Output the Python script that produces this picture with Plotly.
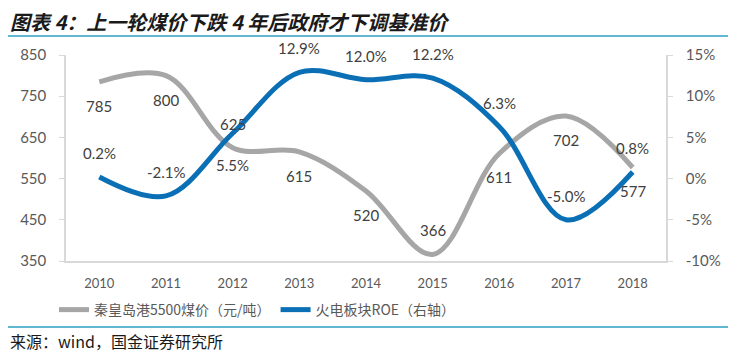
import plotly.graph_objects as go

years = ["2010", "2011", "2012", "2013", "2014", "2015", "2016", "2017", "2018"]
coal_price = [785, 800, 625, 615, 520, 366, 611, 702, 577]
roe = [0.2, -2.1, 5.5, 12.9, 12.0, 12.2, 6.3, -5.0, 0.8]
coal_label_pos = ["below", "below", "above", "below", "below", "above", "below", "below", "below"]
roe_label_pos = ["above", "above", "below", "above", "above", "above", "above", "above", "above"]

coal_name = "秦皇岛港5500煤价（元/吨）"
roe_name = "火电板块ROE（右轴）"
title_text = "图表 4：上一轮煤价下跌 4 年后政府才下调基准价"
source_text = "来源：wind，国金证券研究所"

GRAY = "#a6a6a6"
BLUE = "#0a6fb5"
TXT = "#404040"
TICK = "#595959"
AX = "#d9d9d9"
FONT = "Lato, 'Noto Sans CJK SC', sans-serif"

fig = go.Figure()
fig.add_trace(go.Scatter(x=years, y=coal_price, name=coal_name, mode="lines",
                         line=dict(color=GRAY, width=5, shape="spline", smoothing=1.0),
                         yaxis="y"))
fig.add_trace(go.Scatter(x=years, y=roe, name=roe_name, mode="lines",
                         line=dict(color=BLUE, width=5, shape="spline", smoothing=1.0),
                         yaxis="y2"))

annotations = []
for i, (v, p) in enumerate(zip(coal_price, coal_label_pos)):
    annotations.append(dict(x=i, y=v, xref="x", yref="y", text=str(v), showarrow=False,
                            yshift=24 if p == "above" else -24,
                            font=dict(size=15, color=TXT, family=FONT)))
for i, (v, p) in enumerate(zip(roe, roe_label_pos)):
    annotations.append(dict(x=i, y=v, xref="x", yref="y2", text=f"{v:.1f}%", showarrow=False,
                            yshift=24 if p == "above" else -32,
                            font=dict(size=15, color=TXT, family=FONT)))

# title & source
annotations.append(dict(x=-0.097, y=1.165, xref="paper", yref="paper", xanchor="left", yanchor="middle",
                        text=f"<b><i>{title_text}</i></b>", showarrow=False,
                        font=dict(size=20, color="#1a1a1a", family="'Noto Sans CJK SC', sans-serif")))
annotations.append(dict(x=-0.097, y=-0.388, xref="paper", yref="paper", xanchor="left", yanchor="middle",
                        text=source_text, showarrow=False,
                        font=dict(size=16, color="#1a1a1a", family="'Noto Sans CJK SC', sans-serif")))

shapes = [
    dict(type="line", xref="paper", yref="paper", x0=-0.1, x1=1.11, y0=1.092, y1=1.092,
         line=dict(color="#2aa0c0", width=1.5)),
    dict(type="line", xref="paper", yref="paper", x0=-0.1, x1=1.11, y0=-0.320, y1=-0.320,
         line=dict(color="#2aa0c0", width=1.5)),
]

fig.update_layout(
    width=728, height=348,
    margin=dict(l=58, r=70, t=47, b=95),
    paper_bgcolor="white", plot_bgcolor="white",
    font=dict(family=FONT, color=TICK, size=13),
    showlegend=True,
    legend=dict(orientation="h", x=-0.02, xanchor="left", y=-0.238, yanchor="middle",
                font=dict(size=14, color=TICK, family="'Noto Sans CJK SC', sans-serif"),
                itemwidth=30, bgcolor="rgba(0,0,0,0)"),
    xaxis=dict(type="category", showgrid=False, showline=True, linecolor=AX, linewidth=1.5,
               ticks="", tickfont=dict(size=13, color=TICK), ticklabelstandoff=10,
               range=[-0.5, 8.5], mirror=False, zeroline=False),
    yaxis=dict(range=[350, 850], tickvals=[350, 450, 550, 650, 750, 850], showgrid=False,
               showline=True, linecolor=AX, linewidth=1.5, ticks="outside", ticklen=5,
               tickcolor=AX, tickfont=dict(size=15, color=TICK), ticklabelstandoff=10,
               zeroline=False),
    yaxis2=dict(range=[-10, 15], tickvals=[-10, -5, 0, 5, 10, 15],
                ticktext=["-10%", "-5%", "0%", "5%", "10%", "15%"],
                overlaying="y", side="right", showgrid=False, showline=True, linecolor=AX,
                linewidth=1.5, ticks="outside", ticklen=5, tickcolor=AX,
                tickfont=dict(size=15, color=TICK), ticklabelstandoff=10, zeroline=False),
    annotations=annotations,
    shapes=shapes,
)

fig.write_html("out.html")
